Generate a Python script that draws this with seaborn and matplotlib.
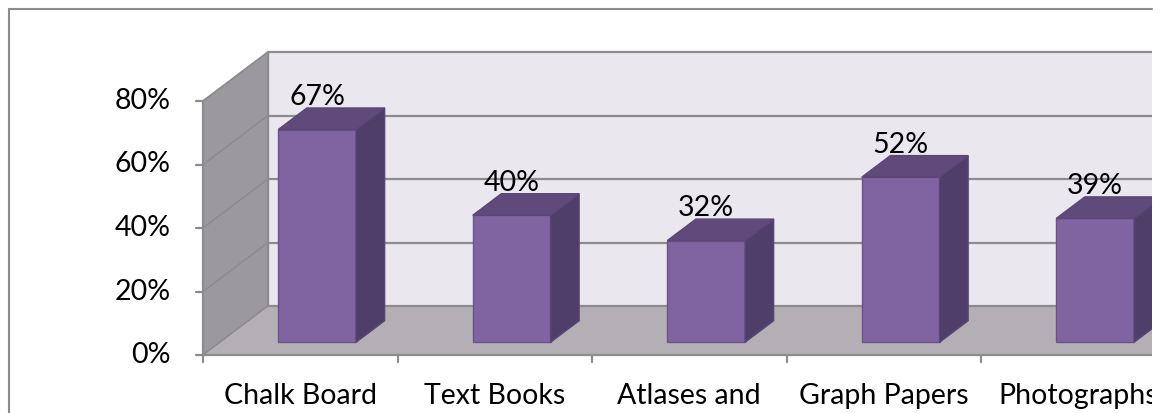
import matplotlib
matplotlib.use("Agg")
import matplotlib.pyplot as plt
from matplotlib.patches import Polygon
import seaborn as sns
import pandas as pd

# Data
categories = ["Chalk Board", "Text Books", "Atlases and", "Graph Papers", "Photographs"]
values = [67, 40, 32, 52, 39]
ytick_values = [0, 20, 40, 60, 80]
ytick_labels = ["0%", "20%", "40%", "60%", "80%"]

sns.set_theme(style="white")
plt.rcParams["font.family"] = ["Lato", "DejaVu Sans"]

W, H, DPI = 1161, 413, 100
fig = plt.figure(figsize=(W / DPI, H / DPI), dpi=DPI)

# Front-plane geometry in pixels
x_left_px = 203.0       # left edge of category axis
cat_px = 194.5          # width of one category
y0_px = 413 - 355.0     # 0% baseline, from bottom
pct_px = 3.175          # pixels per percentage point
clip_px = 1152          # right edge of the visible chart area
FS = 20.5

ax = fig.add_axes([0, 0, clip_px / W, 1])


def set_limits():
    ax.set_xlim(-0.5 - x_left_px / cat_px, -0.5 + (clip_px - x_left_px) / cat_px)
    ax.set_ylim(-y0_px / pct_px, (H - y0_px) / pct_px)
    ax.axis("off")


set_limits()

# Depth vector (full depth of the 3D box) in data units
DX = 65 / cat_px
DY = 49 / pct_px
ymax = 80
n = len(categories)
xr_front = -0.5
xr_end = n + 1.0  # walls run past the clipped edge

wall_grey = "#9b999d"
floor_col = "#b4afb5"
back_col = "#eae7ef"
grid_col = "#8c8c8c"

# Back wall
ax.add_patch(Polygon([(xr_front + DX, DY), (xr_end, DY), (xr_end, ymax + DY),
                      (xr_front + DX, ymax + DY)], closed=True,
                     facecolor=back_col, edgecolor="none", zorder=1))
# Left side wall
ax.add_patch(Polygon([(xr_front, 0), (xr_front, ymax), (xr_front + DX, ymax + DY),
                      (xr_front + DX, DY)], closed=True,
                     facecolor=wall_grey, edgecolor=grid_col, lw=1.2, zorder=1))
# Floor
ax.add_patch(Polygon([(xr_front, 0), (xr_end, 0), (xr_end, DY), (xr_front + DX, DY)],
                     closed=True, facecolor=floor_col, edgecolor="none", zorder=1))

# Gridlines on back and side walls
for v in ytick_values:
    ax.plot([xr_front + DX, xr_end], [v + DY, v + DY], color=grid_col, lw=1.6, zorder=2)
    ax.plot([xr_front, xr_front + DX], [v, v + DY], color=grid_col, lw=1.0, zorder=2)
ax.plot([xr_front + DX, xr_front + DX], [DY, ymax + DY], color=grid_col, lw=1.0, zorder=2)

# Front axes lines and ticks
tick_len_x = 7 / cat_px
tick_len_y = 7 / pct_px
ax.plot([xr_front, xr_end], [0, 0], color=grid_col, lw=1.6, zorder=3)
ax.plot([xr_front, xr_front], [0, ymax], color=grid_col, lw=1.6, zorder=3)
for v, lab in zip(ytick_values, ytick_labels):
    ax.plot([xr_front - tick_len_x, xr_front], [v, v], color=grid_col, lw=1.6, zorder=3)
    ax.text(xr_front - 32 / cat_px, v, lab, ha="right", va="center",
            fontsize=FS, color="black", zorder=5)
for i in range(n + 1):
    xb = i - 0.5
    ax.plot([xb, xb], [0, -tick_len_y], color=grid_col, lw=1.6, zorder=3)
for i, c in enumerate(categories):
    ax.text(i, -28 / pct_px, c, ha="center", va="top", fontsize=FS,
            color="black", zorder=5, clip_on=True)

# Bars (front faces) via seaborn
df = pd.DataFrame({"category": categories, "value": values})
sns.barplot(data=df, x="category", y="value", width=0.4, color="#8064a2",
            saturation=1, edgecolor="#6a5389", linewidth=1.0, ax=ax, zorder=4)
set_limits()

d_front, d_back = 0.26, 0.70
fx, fy = d_front * DX, d_front * DY
bx, by = (d_back - d_front) * DX, (d_back - d_front) * DY

for patch, val in zip(ax.patches[-n:], values):
    x0 = patch.get_x() + fx
    w = patch.get_width()
    h = patch.get_height()
    patch.set_x(x0)
    patch.set_y(fy)
    x1 = x0 + w
    top = fy + h
    # side face
    ax.add_patch(Polygon([(x1, fy), (x1, top), (x1 + bx, top + by), (x1 + bx, fy + by)],
                         closed=True, facecolor="#4f3d6a", edgecolor="#5a4677",
                         lw=1.0, zorder=4))
    # top face
    ax.add_patch(Polygon([(x0, top), (x1, top), (x1 + bx, top + by), (x0 + bx, top + by)],
                         closed=True, facecolor="#604a7b", edgecolor="#5a4677",
                         lw=1.0, zorder=4))
    ax.text(x0 + w / 2, top + by - 0.6, f"{val}%", ha="center", va="bottom",
            fontsize=FS, color="black", zorder=6, clip_on=True)

# Outer chart border
fig.add_artist(plt.Line2D([8.5 / W, 8.5 / W], [0, 1 - 8.5 / H], color="#8c8c8c", lw=1.5))
fig.add_artist(plt.Line2D([8.5 / W, clip_px / W], [1 - 8.5 / H, 1 - 8.5 / H],
                          color="#8c8c8c", lw=1.5))

fig.savefig("out.png", dpi=DPI, facecolor="white")
